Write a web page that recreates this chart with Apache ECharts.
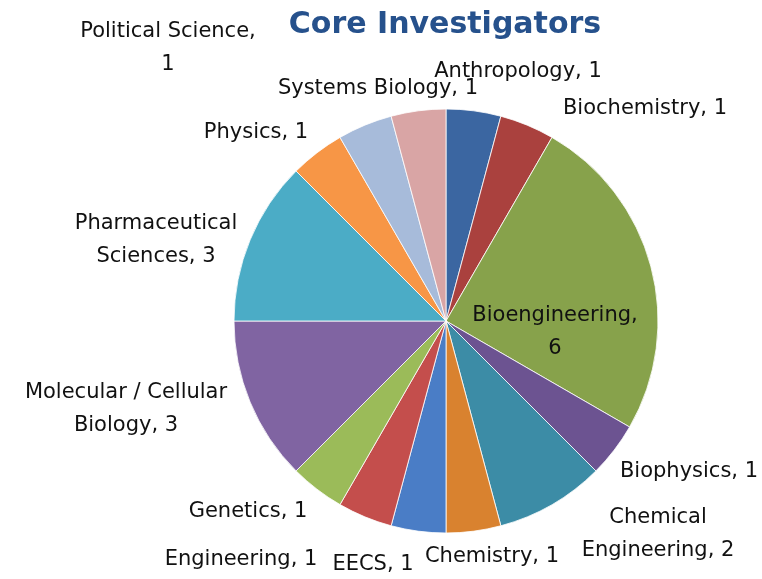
<!DOCTYPE html>
<html>
<head>
<meta charset="utf-8">
<script src="https://cdn.jsdelivr.net/npm/echarts@6/dist/echarts.min.js"></script>
<style>
  html, body { margin: 0; padding: 0; background: #fff; }
  #chart { width: 762px; height: 579px; }
</style>
</head>
<body>
<div id="chart"></div>
<script>
// departments, clockwise from 12 o'clock
const departments = [
  'Anthropology', 'Biochemistry', 'Bioengineering', 'Biophysics',
  'Chemical Engineering', 'Chemistry', 'EECS', 'Engineering', 'Genetics',
  'Molecular / Cellular Biology', 'Pharmaceutical Sciences', 'Physics',
  'Systems Biology', 'Political Science'
]
const investigators = [1, 1, 6, 1, 2, 1, 1, 1, 1, 3, 3, 1, 1, 1]

// label text as wrapped in the original
const labelText = [
  'Anthropology, 1', 'Biochemistry, 1', 'Bioengineering,\n6', 'Biophysics, 1',
  'Chemical\nEngineering, 2', 'Chemistry, 1', 'EECS, 1', 'Engineering, 1', 'Genetics, 1',
  'Molecular / Cellular\nBiology, 3', 'Pharmaceutical\nSciences, 3', 'Physics, 1',
  'Systems Biology, 1', 'Political Science,\n1'
]

const sliceColors = [
  '#3b66a1', '#aa413e', '#87a24b', '#6c5391', '#3c8ca6', '#d9822f', '#4a7dc6',
  '#c44e4c', '#9bbb59', '#8064a2', '#4bacc6', '#f79646', '#a7bbda', '#d9a5a5'
]

// label centres (px), Excel "best fit" placement
const labelPos = [
  [518, 72], [645, 109], [555, 332], [689, 472], [658, 534], [492, 557], [373, 565],
  [241, 560], [248, 512], [126, 409], [156, 240], [256, 133], [378, 89], [168, 48]
]

const chart = echarts.init(document.getElementById('chart'))

chart.setOption({
  animation: false,
  title: {
    text: 'Core Investigators',
    left: 440,
    top: 5,
    textAlign: 'center',
    textStyle: { fontFamily: 'DejaVu Sans', fontSize: 30, fontWeight: 'bold', color: '#26518c' }
  },
  series: [
    {
      type: 'pie',
      center: [446, 321],
      radius: 212,
      startAngle: 90,
      clockwise: true,
      itemStyle: { borderColor: '#fff', borderWidth: 0.8 },
      label: {
        show: true,
        formatter: (p) => labelText[p.dataIndex],
        fontFamily: 'DejaVu Sans',
        fontSize: 21,
        lineHeight: 33,
        color: '#111',
        align: 'center',
        overflow: 'none'
      },
      labelLine: { show: false },
      labelLayout: (p) => ({
        x: labelPos[p.dataIndex][0],
        y: labelPos[p.dataIndex][1],
        align: 'center',
        verticalAlign: 'middle'
      }),
      data: departments.map((name, i) => ({
        name,
        value: investigators[i],
        itemStyle: { color: sliceColors[i] }
      }))
    }
  ]
})
</script>
</body>
</html>
